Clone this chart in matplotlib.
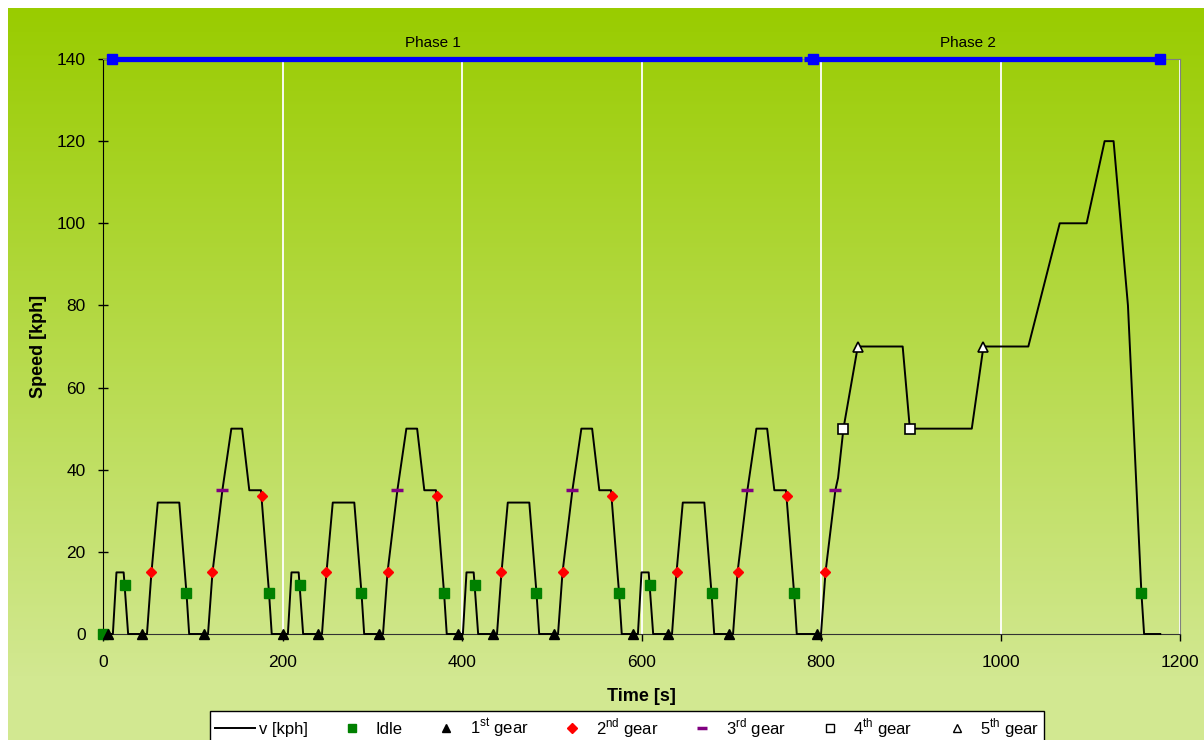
import matplotlib.pyplot as plt
import numpy as np
from matplotlib.lines import Line2D

plt.rcParams['font.family'] = ['Liberation Sans', 'DejaVu Sans']
plt.rcParams['mathtext.fontset'] = 'custom'
plt.rcParams['mathtext.rm'] = 'Liberation Sans'

# speed trace: four urban cycles (phase 1) then the extra-urban part (phase 2)
time_s = [0, 11, 15, 23, 28, 49, 54, 61, 85, 93, 96, 117, 122, 133, 143, 155, 163, 176, 185, 188,
          195, 206, 210, 218, 223, 244, 249, 256, 280, 288, 291, 312, 317, 328, 338, 350, 358, 371, 380, 383,
          390, 401, 405, 413, 418, 439, 444, 451, 475, 483, 486, 507, 512, 523, 533, 545, 553, 566, 575, 578,
          585, 596, 600, 608, 613, 634, 639, 646, 670, 678, 681, 702, 707, 718, 728, 740, 748, 761, 770, 773,
          780, 800, 805, 816, 819, 825, 841, 891, 899, 968, 981, 1031, 1066, 1096, 1116, 1126, 1142, 1157,
          1160, 1178]
speed_kph = [0, 0, 15, 15, 0, 0, 15, 32, 32, 10, 0, 0, 15, 35, 50, 50, 35, 35, 10, 0,
             0, 0, 15, 15, 0, 0, 15, 32, 32, 10, 0, 0, 15, 35, 50, 50, 35, 35, 10, 0,
             0, 0, 15, 15, 0, 0, 15, 32, 32, 10, 0, 0, 15, 35, 50, 50, 35, 35, 10, 0,
             0, 0, 15, 15, 0, 0, 15, 32, 32, 10, 0, 0, 15, 35, 50, 50, 35, 35, 10, 0,
             0, 0, 15, 35, 38, 50, 70, 70, 50, 50, 70, 70, 100, 100, 120, 120, 80, 10,
             0, 0]

# gear / idle markers
idle_t = [0, 24, 93, 185, 219, 288, 380, 414, 483, 575, 609, 678, 770, 1157]
idle_v = [0, 12, 10, 10, 12, 10, 10, 12, 10, 10, 12, 10, 10, 10]
gear1_t = [6, 44, 112, 201, 239, 307, 396, 434, 502, 591, 629, 697, 796]
gear1_v = [0, 0, 0, 0, 0, 0, 0, 0, 0, 0, 0, 0, 0]
gear2_t = [54, 122, 177, 249, 317, 372, 444, 512, 567, 639, 707, 762, 805]
gear2_v = [15, 15, 33.5, 15, 15, 33.5, 15, 15, 33.5, 15, 15, 33.5, 15]
gear3_t = [133, 328, 523, 718, 816]
gear3_v = [35, 35, 35, 35, 35]
gear4_t = [825, 899]
gear4_v = [50, 50]
gear5_t = [841, 981]
gear5_v = [70, 70]

# phase bars along the top
phase1_t = [10, 779]
phase2_t = [781, 1178]
phase_sq_t = [10, 791, 1178]
phase_level = 140
phase_names = ['Phase 1', 'Phase 2']
phase_label_t = [368, 964]

fig = plt.figure(figsize=(12.04, 7.40), dpi=100, facecolor='white')

# gradient background
bg = fig.add_axes([8 / 1204, 0, 1 - 8 / 1204, 732 / 740], zorder=-10)
bg.axis('off')
top = np.array([153, 204, 0]) / 255
bot = np.array([210, 232, 145]) / 255
frac = np.clip(np.arange(732) / 668, 0, 1)[:, None]
grad = top + (bot - top) * frac
bg.imshow(grad[:, None, :], aspect='auto', extent=(0, 1, 0, 1))

ax = fig.add_axes([103 / 1204, 106 / 740, 1077 / 1204, 575 / 740])
ax.set_facecolor('none')

ax.plot(time_s, speed_kph, color='black', lw=1.4, zorder=3, clip_on=False)
ax.plot(idle_t, idle_v, 's', color='#008000', ms=7, zorder=4, clip_on=False)
ax.plot(gear1_t, gear1_v, '^', color='black', ms=6.5, zorder=4, clip_on=False)
ax.plot(gear2_t, gear2_v, 'D', color='#FF0000', ms=5.5, zorder=4, clip_on=False)
ax.plot(gear3_t, gear3_v, '_', color='#800080', ms=8, mew=2.5, zorder=4, clip_on=False)
ax.plot(gear4_t, gear4_v, 's', mfc='white', mec='black', mew=1.2, ms=6.5, zorder=4, clip_on=False)
ax.plot(gear5_t, gear5_v, '^', mfc='white', mec='black', mew=1.2, ms=7, zorder=4, clip_on=False)

ax.plot(phase1_t, [phase_level] * 2, color='#0000FF', lw=3.8, zorder=5, clip_on=False,
        solid_capstyle='butt')
ax.plot(phase2_t, [phase_level] * 2, color='#0000FF', lw=3.8, zorder=5, clip_on=False,
        solid_capstyle='butt')
ax.plot(phase_sq_t, [phase_level] * 3, 's', color='#0000FF', ms=7.5, zorder=6, clip_on=False)
for name, t in zip(phase_names, phase_label_t):
    ax.text(t, 142.3, name, ha='center', va='bottom', fontsize=11)

ax.set_xlim(0, 1200)
ax.set_ylim(0, 140)
ax.set_xticks(np.arange(0, 1201, 200))
ax.set_yticks(np.arange(0, 141, 20))
ax.tick_params(axis='both', labelsize=12.5, colors='black')
ax.tick_params(axis='y', direction='inout', length=7, width=1, pad=9)
ax.tick_params(axis='x', direction='out', length=5, width=1, pad=10)
ax.grid(axis='x', color='white', lw=1.3, zorder=1)
ax.set_axisbelow(True)

ax.spines['left'].set_color('black')
ax.spines['bottom'].set_color('#333333')
ax.spines['right'].set_color('#808080')
ax.spines['top'].set_color('#808080')

ax.set_xlabel('Time [s]', fontsize=13, fontweight='bold', labelpad=13)
ax.set_ylabel('Speed [kph]', fontsize=13, fontweight='bold', labelpad=7)

handles = [
    Line2D([], [], color='black', lw=1.4),
    Line2D([], [], ls='none', marker='s', color='#008000', ms=6),
    Line2D([], [], ls='none', marker='^', color='black', ms=6),
    Line2D([], [], ls='none', marker='D', color='#FF0000', ms=5),
    Line2D([], [], ls='none', marker='_', color='#800080', ms=7, mew=2.5),
    Line2D([], [], ls='none', marker='s', mfc='white', mec='black', mew=1, ms=6),
    Line2D([], [], ls='none', marker='^', mfc='white', mec='black', mew=1, ms=6),
]
labels = ['v [kph]', 'Idle', '1$^{\\mathregular{st}}$ gear', '2$^{\\mathregular{nd}}$ gear',
          '3$^{\\mathregular{rd}}$ gear', '4$^{\\mathregular{th}}$ gear', '5$^{\\mathregular{th}}$ gear']
leg = fig.legend(handles, labels, loc='upper center', bbox_to_anchor=(0.521, 29 / 740),
                 ncol=7, fontsize=12, frameon=True, fancybox=False, edgecolor='black',
                 framealpha=1, handlelength=2.4, handletextpad=0.2, columnspacing=1.45,
                 borderpad=0.3, borderaxespad=0)
leg.get_frame().set_linewidth(1.0)

fig.savefig('out.png', dpi=100, facecolor=fig.get_facecolor())
